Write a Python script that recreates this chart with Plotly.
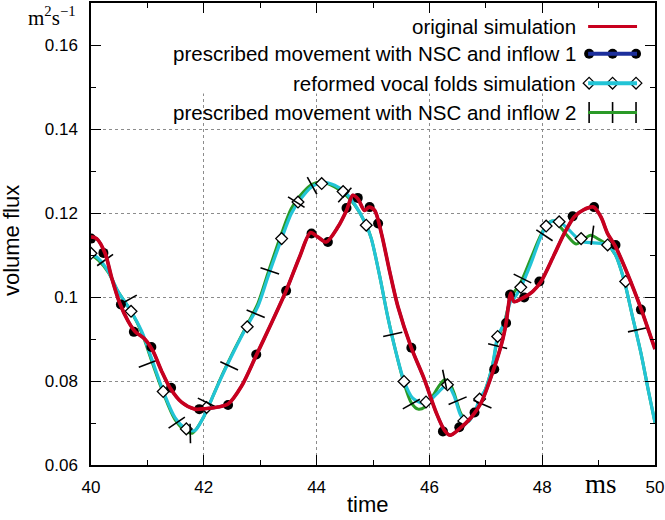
import numpy as np
import plotly.graph_objects as go

# ---------------- data ----------------
# original simulation (red)
time_orig = [40.00, 40.10, 40.25, 40.37, 40.51, 40.66, 40.78, 40.96, 41.10, 41.25, 41.40, 41.61,
             41.84, 42.02, 42.25, 42.43, 42.67, 42.93, 43.20, 43.46, 43.70, 43.89, 44.02, 44.17,
             44.38, 44.53, 44.64, 44.73, 44.85, 44.93, 45.03, 45.15, 45.29, 45.44, 45.68, 45.91,
             46.12, 46.27, 46.37, 46.53, 46.74, 46.92, 47.12, 47.30, 47.36, 47.40, 47.44, 47.50,
             47.65, 47.83, 47.98, 48.21, 48.39, 48.57, 48.74, 48.91, 49.04, 49.16, 49.30, 49.51,
             49.75, 49.92, 50.00]
flux_orig = [0.1143, 0.1139, 0.1104, 0.1044, 0.0985, 0.0942, 0.0918, 0.0899, 0.0871, 0.0824, 0.0784, 0.0749,
             0.0733, 0.0734, 0.0738, 0.0745, 0.0788, 0.0861, 0.0938, 0.1015, 0.1096, 0.1153, 0.1143, 0.1131,
             0.1167, 0.1206, 0.1242, 0.1234, 0.1206, 0.1214, 0.1206, 0.1151, 0.1064, 0.0978, 0.0879, 0.0804,
             0.0725, 0.0682, 0.0671, 0.0686, 0.0713, 0.0749, 0.0820, 0.0899, 0.0938, 0.0978, 0.1009, 0.0989,
             0.0997, 0.1013, 0.1037, 0.1100, 0.1151, 0.1191, 0.1208, 0.1214, 0.1191, 0.1151, 0.1120, 0.1056,
             0.0973, 0.0907, 0.0876]

# prescribed movement with NSC and inflow 1 (blue, coincides with the red curve)
time_inflow1 = time_orig
flux_inflow1 = flux_orig
time_inflow1_pts = [40.00, 40.22, 40.53, 40.76, 41.07, 41.42, 41.92, 42.43, 42.93, 43.46, 43.91, 44.20,
                    44.53, 44.73, 44.94, 45.09, 45.68, 46.24, 46.53, 46.80, 47.15, 47.36, 47.43, 47.68,
                    47.95, 48.54, 48.92, 49.30, 49.75]
flux_inflow1_pts = [0.1139, 0.1105, 0.0982, 0.0917, 0.0881, 0.0784, 0.0733, 0.0743, 0.0863, 0.1015, 0.1151, 0.1131,
                    0.1212, 0.1236, 0.1214, 0.1175, 0.0879, 0.0680, 0.0690, 0.0725, 0.0828, 0.0938, 0.1006, 0.0999,
                    0.1037, 0.1192, 0.1214, 0.1124, 0.0970]

# reformed vocal folds simulation (cyan)
time_reformed = [40.00, 40.13, 40.31, 40.48, 40.71, 40.90, 41.07, 41.28, 41.49, 41.69, 41.84, 41.99,
                 42.14, 42.31, 42.55, 42.76, 42.96, 43.14, 43.38, 43.55, 43.70, 43.91, 44.11, 44.32,
                 44.50, 44.67, 44.88, 44.97, 45.12, 45.26, 45.41, 45.55, 45.70, 45.88, 46.00, 46.15,
                 46.32, 46.44, 46.56, 46.68, 46.80, 46.89, 46.99, 47.12, 47.21, 47.33, 47.45, 47.50,
                 47.62, 47.80, 47.95, 48.07, 48.18, 48.30, 48.45, 48.60, 48.74, 48.92, 49.16, 49.30,
                 49.45, 49.60, 49.75, 49.89, 50.00]
flux_reformed = [0.1104, 0.1092, 0.1060, 0.1013, 0.0966, 0.0918, 0.0855, 0.0776, 0.0713, 0.0686, 0.0682, 0.0713,
                 0.0757, 0.0808, 0.0875, 0.0929, 0.0978, 0.1049, 0.1139, 0.1198, 0.1230, 0.1262, 0.1273, 0.1266,
                 0.1250, 0.1222, 0.1171, 0.1139, 0.1049, 0.0954, 0.0867, 0.0800, 0.0760, 0.0747, 0.0753, 0.0772,
                 0.0792, 0.0764, 0.0717, 0.0703, 0.0725, 0.0757, 0.0779, 0.0838, 0.0906, 0.0938, 0.0993, 0.0997,
                 0.1023, 0.1080, 0.1135, 0.1169, 0.1181, 0.1179, 0.1163, 0.1143, 0.1131, 0.1129, 0.1124, 0.1100,
                 0.1041, 0.0954, 0.0867, 0.0772, 0.0701]
time_reformed_pts = [40.00, 40.71, 41.28, 41.69, 42.05, 42.77, 43.38, 43.67, 44.09, 44.47, 44.88, 45.55,
                     45.94, 46.32, 46.61, 46.89, 47.21, 47.62, 48.07, 48.30, 48.69, 49.16, 49.48]
flux_reformed_pts = [0.1104, 0.0966, 0.0775, 0.0686, 0.0737, 0.0929, 0.1139, 0.1226, 0.1270, 0.1251, 0.1171, 0.0799,
                     0.0750, 0.0791, 0.0705, 0.0757, 0.0906, 0.1023, 0.1169, 0.1179, 0.1139, 0.1124, 0.1037]

# prescribed movement with NSC and inflow 2 (green)
time_inflow2 = [40.00, 40.13, 40.31, 40.48, 40.71, 40.90, 41.07, 41.28, 41.49, 41.69, 41.80, 41.99,
                42.14, 42.31, 42.55, 42.76, 42.96, 43.14, 43.38, 43.55, 43.70, 43.91, 44.09, 44.32,
                44.50, 44.67, 44.88, 44.97, 45.12, 45.26, 45.41, 45.55, 45.68, 45.80, 45.92, 46.05,
                46.18, 46.27, 46.36, 46.44, 46.56, 46.68, 46.80, 46.89, 46.99, 47.12, 47.21, 47.33,
                47.45, 47.62, 47.80, 47.95, 48.07, 48.18, 48.30, 48.45, 48.60, 48.74, 48.86, 48.97,
                49.16, 49.30, 49.45, 49.60, 49.75, 49.89, 50.00]
flux_inflow2 = [0.1100, 0.1088, 0.1058, 0.1013, 0.0966, 0.0915, 0.0850, 0.0772, 0.0708, 0.0680, 0.0676, 0.0712,
                0.0757, 0.0810, 0.0877, 0.0932, 0.0985, 0.1058, 0.1152, 0.1210, 0.1240, 0.1268, 0.1274, 0.1262,
                0.1245, 0.1220, 0.1171, 0.1139, 0.1049, 0.0954, 0.0867, 0.0795, 0.0748, 0.0733, 0.0738, 0.0762,
                0.0790, 0.0803, 0.0795, 0.0770, 0.0722, 0.0703, 0.0725, 0.0752, 0.0779, 0.0838, 0.0900, 0.0940,
                0.1000, 0.1035, 0.1092, 0.1140, 0.1170, 0.1181, 0.1170, 0.1145, 0.1126, 0.1138, 0.1147, 0.1140,
                0.1124, 0.1100, 0.1041, 0.0954, 0.0867, 0.0772, 0.0701]
time_inflow2_pts = [40.25, 40.66, 41.01, 41.52, 41.76, 42.05, 42.45, 42.92, 43.17, 43.64, 43.92, 44.50,
                    45.35, 45.68, 46.27, 46.50, 46.94, 47.21, 47.65, 48.04, 48.89, 49.69]
flux_inflow2_pts = [0.1088, 0.0993, 0.0841, 0.0701, 0.0675, 0.0749, 0.0836, 0.0960, 0.1062, 0.1226, 0.1265, 0.1243,
                    0.0911, 0.0745, 0.0804, 0.0753, 0.0745, 0.0883, 0.1044, 0.1147, 0.1147, 0.0922]

legend_names = ["original simulation",
                "prescribed movement with NSC and inflow 1",
                "reformed vocal folds simulation",
                "prescribed movement with NSC and inflow 2"]

x_tick_vals = [40, 42, 44, 46, 48, 50]
y_tick_vals = [0.06, 0.08, 0.10, 0.12, 0.14, 0.16]
y_tick_text = ["0.06", "0.08", "0.1", "0.12", "0.14", "0.16"]

# ---------------- style / layout ----------------
W, H = 665, 520
ML, MR, MT, MB = 91, 9, 1, 55
PW, PH = W - ML - MR, H - MT - MB
X_RANGE = [40, 50]
Y_RANGE = [0.06, 0.17]

RED = "#c8001e"
BLUE = "#1c2f9c"
CYAN = "#22c4d6"
GREEN = "#2a9a28"
SANS = "Liberation Sans, Arial, sans-serif"
SERIF = "Liberation Serif, Times New Roman, serif"

# orientation of the inflow-2 tick marks: perpendicular to the curve (pixel space)
px_per_x = PW / (X_RANGE[1] - X_RANGE[0])
px_per_y = PH / (Y_RANGE[1] - Y_RANGE[0])
slope = np.gradient(np.array(flux_inflow2), np.array(time_inflow2))
slope_at = np.interp(time_inflow2_pts, time_inflow2, slope)
tick_angles = (-np.degrees(np.arctan(slope_at * px_per_y / px_per_x))).tolist()

fig = go.Figure()

# green line
fig.add_trace(go.Scatter(x=time_inflow2, y=flux_inflow2, mode="lines",
                         line=dict(color=GREEN, width=3, shape="spline", smoothing=0.8),
                         showlegend=False, hoverinfo="skip"))
# cyan line + diamonds
fig.add_trace(go.Scatter(x=time_reformed, y=flux_reformed, mode="lines",
                         line=dict(color=CYAN, width=3.2, shape="spline", smoothing=0.8),
                         showlegend=False, hoverinfo="skip"))
fig.add_trace(go.Scatter(x=time_reformed_pts, y=flux_reformed_pts, mode="markers",
                         marker=dict(symbol="diamond", size=9, color="white",
                                     line=dict(color="black", width=1.3)),
                         showlegend=False, hoverinfo="skip"))
# green tick marks
fig.add_trace(go.Scatter(x=time_inflow2_pts, y=flux_inflow2_pts, mode="markers",
                         marker=dict(symbol="line-ns", size=14, angle=tick_angles,
                                     line=dict(color="black", width=1.6)),
                         showlegend=False, hoverinfo="skip"))
# blue line + circles
fig.add_trace(go.Scatter(x=time_inflow1, y=flux_inflow1, mode="lines",
                         line=dict(color=BLUE, width=3, shape="spline", smoothing=0.8),
                         showlegend=False, hoverinfo="skip"))
fig.add_trace(go.Scatter(x=time_inflow1_pts, y=flux_inflow1_pts, mode="markers",
                         marker=dict(symbol="circle", size=10, color="black"),
                         showlegend=False, hoverinfo="skip"))
# red line
fig.add_trace(go.Scatter(x=time_orig, y=flux_orig, mode="lines",
                         line=dict(color=RED, width=3.7, shape="spline", smoothing=0.8),
                         showlegend=False, hoverinfo="skip"))

# ---------------- custom gnuplot-style key ----------------
row_px = [24.5, 52, 81.5, 111]
row_y = [(MT + PH - p) / PH for p in row_px]
text_x = (579 - ML) / PW
s0, s1 = (589 - ML) / PW, (638 - ML) / PW
mk = [(590 - ML) / PW, (613.5 - ML) / PW, (637 - ML) / PW]
sample_cols = [RED, BLUE, CYAN, GREEN]
sample_w = [3, 4, 4, 3]

annotations = []
shapes = [dict(type="rect", xref="x", yref="y", x0=40, x1=50,
               y0=Y_RANGE[0] + (MT + PH - 92) / px_per_y, y1=Y_RANGE[1],
               fillcolor="white", line=dict(width=0), layer="between")]
for name, y, c, w in zip(legend_names, row_y, sample_cols, sample_w):
    annotations.append(dict(text=name, xref="paper", yref="paper", x=text_x, y=y,
                            xanchor="right", yanchor="middle", showarrow=False,
                            font=dict(family=SANS, size=20.5, color="black")))
    shapes.append(dict(type="line", xref="paper", yref="paper", x0=s0, x1=s1, y0=y, y1=y,
                       line=dict(color=c, width=w), layer="above"))

fig.add_trace(go.Scatter(x=mk, y=[row_y[1]] * 3, xaxis="x2", yaxis="y2", mode="markers",
                         marker=dict(symbol="circle", size=10, color="black"),
                         showlegend=False, hoverinfo="skip"))
fig.add_trace(go.Scatter(x=mk, y=[row_y[2]] * 3, xaxis="x2", yaxis="y2", mode="markers",
                         marker=dict(symbol="diamond", size=9, color="white",
                                     line=dict(color="black", width=1.3)),
                         showlegend=False, hoverinfo="skip"))
fig.add_trace(go.Scatter(x=mk, y=[row_y[3]] * 3, xaxis="x2", yaxis="y2", mode="markers",
                         marker=dict(symbol="line-ns", size=15, line=dict(color="black", width=1.6)),
                         showlegend=False, hoverinfo="skip"))

# axis titles and units
annotations += [
    dict(text="volume flux", xref="paper", yref="paper", x=(12 - ML) / PW, y=(MT + PH - 240) / PH,
         textangle=-90, xanchor="center", yanchor="middle", showarrow=False,
         font=dict(family=SANS, size=22, color="black")),
    dict(text="time", xref="paper", yref="paper", x=(368 - ML) / PW, y=(MT + PH - 505) / PH,
         xanchor="center", yanchor="middle", showarrow=False,
         font=dict(family=SANS, size=22, color="black")),
    dict(text="ms", xref="paper", yref="paper", x=(602 - ML) / PW, y=(MT + PH - 484) / PH,
         xanchor="center", yanchor="middle", showarrow=False,
         font=dict(family=SERIF, size=27, color="black")),
    dict(text="m<sup>2</sup>s<sup>\u22121</sup>", xref="paper", yref="paper", x=(52 - ML) / PW,
         y=(MT + PH - 15) / PH, xanchor="center", yanchor="middle", showarrow=False,
         font=dict(family=SERIF, size=21, color="black")),
]

axis_common = dict(showline=True, linecolor="black", linewidth=1.5, mirror="ticks",
                   ticks="inside", ticklen=10, tickwidth=1.2, tickcolor="black",
                   showgrid=True, gridcolor="#8c8c8c", griddash="dot", gridwidth=1,
                   zeroline=False, ticklabeloverflow="allow",
                   tickfont=dict(family=SANS, size=17, color="black"))

fig.update_layout(
    width=W, height=H,
    margin=dict(l=ML, r=MR, t=MT, b=MB),
    paper_bgcolor="white", plot_bgcolor="white",
    xaxis=dict(range=X_RANGE, tickvals=x_tick_vals,
               minor=dict(dtick=1, tick0=41, ticks="inside", ticklen=5, tickcolor="black",
                          tickwidth=1.2, showgrid=False),
               ticklabelstandoff=6, **axis_common),
    yaxis=dict(range=Y_RANGE, tickvals=y_tick_vals, ticktext=y_tick_text,
               minor=dict(tickvals=[0.07, 0.09, 0.11, 0.13, 0.15], ticks="inside", ticklen=5,
                          tickcolor="black", tickwidth=1.2, showgrid=False),
               ticklabelstandoff=8, **axis_common),
    xaxis2=dict(range=[0, 1], overlaying="x", visible=False),
    yaxis2=dict(range=[0, 1], overlaying="y", visible=False),
    annotations=annotations,
    shapes=shapes,
    showlegend=False,
)

fig.write_html("out.html", config={"displayModeBar": False},
               post_script="document.body.style.margin='0';document.body.style.overflow='hidden';")
